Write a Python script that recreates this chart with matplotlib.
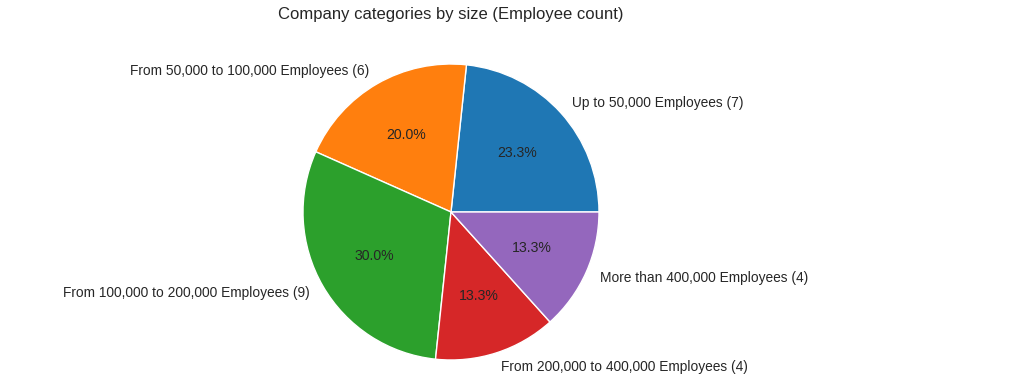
import matplotlib
matplotlib.use("Agg")
import matplotlib.pyplot as plt
import seaborn as sns

sns.set_style("white")
plt.rcParams['font.family'] = ['Liberation Sans', 'DejaVu Sans']
plt.rcParams['text.color'] = '#262626'

labels = ["Up to 50,000 Employees (7)", "From 50,000 to 100,000 Employees (6)",
          "From 100,000 to 200,000 Employees (9)", "From 200,000 to 400,000 Employees (4)",
          "More than 400,000 Employees (4)"]
counts = [7, 6, 9, 4, 4]
colors = ['#1f77b4', '#ff7f0e', '#2ca02c', '#d62728', '#9467bd']

W, H = 1018, 386
fig = plt.figure(figsize=(W / 100, H / 100), dpi=100)
cx, cy, r = 451, 386 - 212, 148
half = 170
ax = fig.add_axes([(cx - half) / W, (cy - half) / H, 2 * half / W, 2 * half / H])
wedges, texts, autotexts = ax.pie(counts, labels=labels, colors=colors, autopct='%1.1f%%',
       wedgeprops=dict(edgecolor='white', linewidth=1),
       textprops=dict(fontsize=9.9, color='#262626'))
for t in autotexts:
    t.set_fontsize(10.2)
lim = half / r
ax.set_xlim(-lim, lim)
ax.set_ylim(-lim, lim)
ax.set_aspect('equal')
ax.axis('off')
fig.text(cx / W, 1 - 14 / H, "Company categories by size (Employee count)",
         ha='center', va='center', fontsize=12, color='#262626')
fig.savefig("out.png", dpi=100)
